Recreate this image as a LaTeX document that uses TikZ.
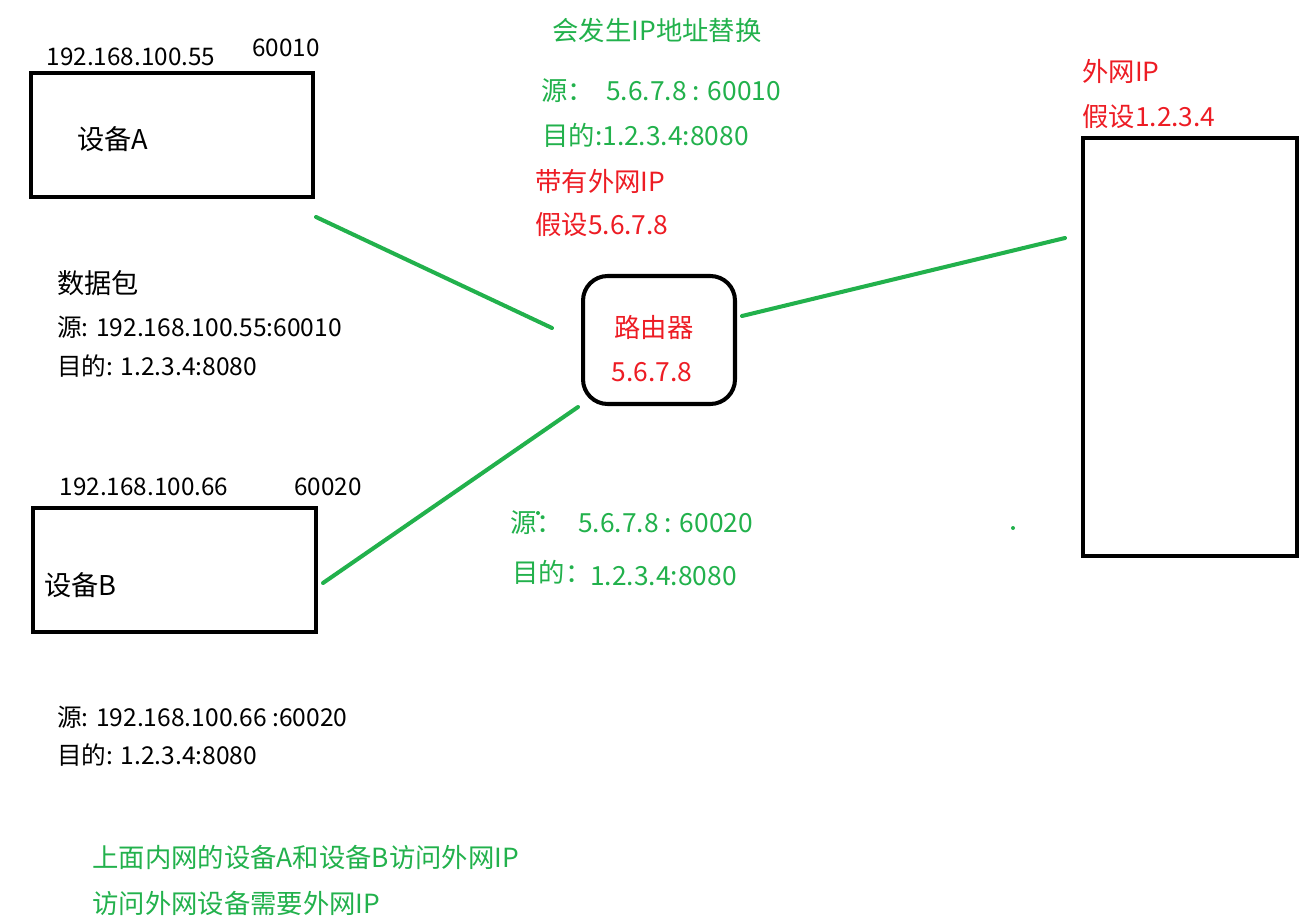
\documentclass[tikz,border=0pt]{standalone}
\usepackage{fontspec}
\setmainfont{Noto Sans CJK SC}
\definecolor{paintgreen}{RGB}{34,177,76}
\definecolor{paintred}{RGB}{237,28,36}
\tikzset{
  box/.style={draw, line width=2.3pt, inner sep=0pt},
  link/.style={paintgreen, line width=2.3pt, line cap=round},
  txt/.style={inner sep=0pt, anchor=west, font=\fontsize{14}{16}\selectfont},
  big/.style={txt, font=\fontsize{15.5}{17}\selectfont},
  small/.style={inner sep=0pt, font=\fontsize{13.8}{15}\selectfont},
  gtxt/.style={txt, text=paintgreen, font=\fontsize{15}{17}\selectfont},
  rtxt/.style={txt, text=paintred, font=\fontsize{15}{17}\selectfont},
}
\begin{document}
\begin{tikzpicture}[x=0.02cm, y=-0.02cm]
\useasboundingbox (0,0) rectangle (1308,922);
% the two inner devices
\node[box, minimum width=5.64cm, minimum height=2.48cm] (devA) at (172,135) {};
\node[box, minimum width=5.66cm, minimum height=2.48cm] (devB) at (174.5,570) {};
\node[big] (nameA) at (77,139) {设备A};
\node[big] (nameB) at (44,585) {设备B};
\node[small] (ipA) at (131,57) {192.168.100.55};
\node[small] (portA) at (286,48) {60010};
\node[small] (ipB) at (144,487) {192.168.100.66};
\node[small] (portB) at (328,487) {60020};
% router and outside host
\node[box, rounded corners=14pt, minimum width=3.04cm, minimum height=2.56cm] (router) at (659,340) {};
\node[rtxt, anchor=center] (rname) at (654,327) {路由器};
\node[rtxt, anchor=center] (rip) at (652,372) {5.6.7.8};
\node[box, minimum width=4.28cm, minimum height=8.36cm] (host) at (1190,347) {};
\node[rtxt] (hostA) at (1082,71) {外网IP};
\node[rtxt] (hostB) at (1082,117) {假设1.2.3.4};
% links
\coordinate (a1) at (316,217);
\coordinate (a2) at (552,328);
\coordinate (b1) at (323,583);
\coordinate (b2) at (578,407);
\coordinate (h1) at (742,316);
\coordinate (h2) at (1065,238);
\draw[link] (a1) -- (a2);
\draw[link] (b1) -- (b2);
\draw[link] (h1) -- (h2);
% packets
\node[big] (pkt) at (57,283) {数据包};
\node[txt] (srcA) at (57,327) {源: 192.168.100.55:60010};
\node[txt] (dstA) at (57,366) {目的: 1.2.3.4:8080};
\node[txt] (srcB) at (57,717) {源: 192.168.100.66 :60020};
\node[txt] (dstB) at (57,755) {目的: 1.2.3.4:8080};
% after the router
\node[gtxt, anchor=center] (nat) at (657,30) {会发生IP地址替换};
\node[gtxt] (natsrcA) at (541,91) {源：};
\node[gtxt] (natsrcAv) at (606,91) {5.6.7.8 : 60010};
\node[gtxt] (natdstA) at (542,135) {目的:1.2.3.4:8080};
\node[rtxt] (wan) at (535,181) {带有外网IP};
\node[rtxt] (wanip) at (535,225) {假设5.6.7.8};
\node[gtxt] (natsrcB) at (510,523) {源：};
\node[gtxt] (natsrcBv) at (578,523) {5.6.7.8 : 60020};
\node[gtxt] (natdstB) at (512,572) {目的：};
\node[gtxt] (natdstBv) at (590,576) {1.2.3.4:8080};
\fill[paintgreen] (538,513) circle (2);
\fill[paintgreen] (1013,528) circle (2);
% note
\node[gtxt] (note1) at (92,857) {上面内网的设备A和设备B访问外网IP};
\node[gtxt] (note2) at (92,903) {访问外网设备需要外网IP};
\end{tikzpicture}
\end{document}
